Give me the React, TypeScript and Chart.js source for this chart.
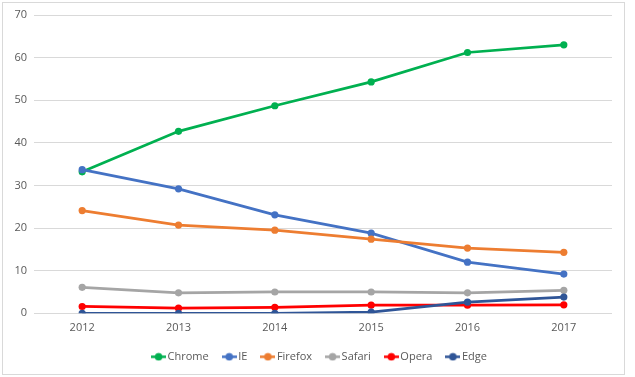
import React, { useEffect, useRef } from "react";
import { Chart, registerables } from "chart.js";
Chart.register(...registerables);

const years = ["2012", "2013", "2014", "2015", "2016", "2017"];
const chrome = [33.2, 42.7, 48.7, 54.3, 61.2, 63.0];
const ie = [33.7, 29.2, 23.1, 18.8, 12.0, 9.2];
const firefox = [24.1, 20.7, 19.5, 17.4, 15.3, 14.3];
const safari = [6.1, 4.8, 5.0, 5.0, 4.8, 5.4];
const opera = [1.6, 1.2, 1.4, 1.9, 1.9, 2.0];
const edge = [0, 0, 0, 0.3, 2.6, 3.8];
const seriesNames = ["Chrome", "IE", "Firefox", "Safari", "Opera", "Edge"];
const seriesValues = [chrome, ie, firefox, safari, opera, edge];
const seriesColors = ["#00B050", "#4472C4", "#ED7D31", "#A5A5A5", "#FF0000", "#2F5597"];
const yMin = 0;
const yMax = 70;
const yStep = 10;

function makeMarker(color: string): HTMLCanvasElement {
  const c = document.createElement("canvas");
  c.width = 15;
  c.height = 9;
  const ctx = c.getContext("2d")!;
  ctx.strokeStyle = color;
  ctx.lineWidth = 2.5;
  ctx.beginPath();
  ctx.moveTo(0, 4.5);
  ctx.lineTo(15, 4.5);
  ctx.stroke();
  ctx.fillStyle = color;
  ctx.beginPath();
  ctx.arc(7.5, 4.5, 3.8, 0, Math.PI * 2);
  ctx.fill();
  return c;
}

const framePlugin = {
  id: "frame",
  beforeDraw(chart: any) {
    const ctx = chart.ctx;
    ctx.save();
    ctx.fillStyle = "#ffffff";
    ctx.fillRect(0, 0, chart.width, chart.height);
    ctx.strokeStyle = "#d9d9d9";
    ctx.lineWidth = 1;
    ctx.strokeRect(2.5, 2.5, 622, 372);
    ctx.restore();
  },
};

export default function App() {
  const ref = useRef<HTMLCanvasElement>(null);
  useEffect(() => {
    if (!ref.current) return;
    const markers = seriesColors.map((c) => makeMarker(c));
    const font = { family: "'Open Sans', sans-serif", size: 11 };
    const chart = new Chart(ref.current, {
      type: "line",
      data: {
        labels: years,
        datasets: seriesNames.map((name, i) => ({
          label: name,
          data: seriesValues[i],
          borderColor: seriesColors[i],
          backgroundColor: seriesColors[i],
          borderWidth: 2.75,
          pointRadius: 3.6,
          pointBorderWidth: 0,
          pointHoverRadius: 3.6,
          tension: 0,
          fill: false,
          order: seriesNames.length - i,
        })),
      },
      options: {
        responsive: false,
        animation: false,
        layout: { padding: { left: 13, right: 6, top: 15, bottom: 4.7 } },
        plugins: {
          tooltip: { enabled: false },
          legend: {
            position: "bottom",
            labels: {
              usePointStyle: true,
              boxWidth: 7,
              boxHeight: 11,
              padding: 17,
              color: "#595959",
              font,
              sort: (a: any, b: any) => a.datasetIndex - b.datasetIndex,
              generateLabels: (chart: any) => {
                const items = Chart.defaults.plugins.legend.labels.generateLabels(chart);
                return items.map((it: any) => ({ ...it, pointStyle: markers[it.datasetIndex] }));
              },
            },
          },
        },
        scales: {
          x: {
            offset: true,
            grid: { display: false, drawTicks: false },
            border: { display: false },
            ticks: { color: "#595959", font, padding: 8 },
            afterFit: (s: any) => {
              s.height = 21;
            },
          },
          y: {
            min: yMin,
            max: yMax,
            grid: { color: "#d9d9d9", lineWidth: 1, drawTicks: false },
            border: { display: false },
            ticks: { stepSize: yStep, color: "#595959", font, padding: 7 },
            afterFit: (s: any) => {
              s.width = 21;
            },
          },
          yRight: {
            position: "right",
            display: true,
            grid: { display: false, drawTicks: false },
            border: { display: false },
            ticks: { display: false },
            afterFit: (s: any) => {
              s.width = 17;
            },
          },
        },
      },
      plugins: [framePlugin],
    } as any);
    return () => chart.destroy();
  }, []);
  return (
    <div style={{ position: "absolute", left: 0, top: 0, width: 635, height: 377 }}>
      <canvas ref={ref} width={635} height={377} />
    </div>
  );
}
